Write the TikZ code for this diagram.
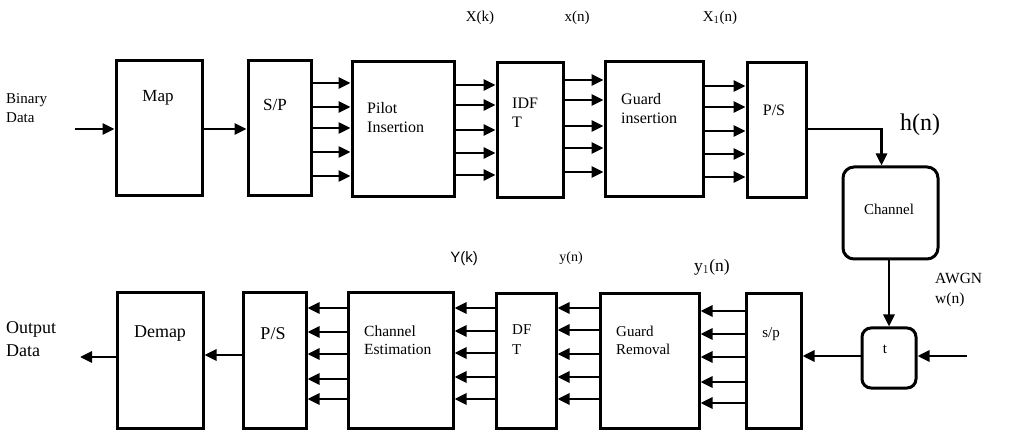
\documentclass[tikz,border=0pt]{standalone}
\usepackage{fontspec}
\setmainfont{Liberation Serif}
\newfontfamily\sansfnt{Liberation Sans}
\usetikzlibrary{arrows.meta}
\tikzset{
  blk/.style={draw=black, line width=3pt, inner sep=0pt, minimum height=135pt},
  arr/.style={line width=2.8pt, -{Triangle[length=12pt,width=11pt]}},
  lbl/.style={inner sep=0pt, align=left, font=\fontsize{16}{19}\selectfont},
  big/.style={inner sep=0pt, align=left, font=\fontsize{18}{23}\selectfont}
}
\begin{document}
\begin{tikzpicture}[x=1pt,y=-1pt]
\useasboundingbox (0,0) rectangle (1012,446);
\node[blk, minimum width=86pt] (map) at (159,128) {};
\node[blk, minimum width=63pt] (sp1) at (279.5,128) {};
\node[blk, minimum width=102pt] (pilot) at (403,129.5) {};
\node[blk, minimum width=66pt] (idft) at (530,130) {};
\node[blk, minimum width=98pt] (gins) at (654,129.5) {};
\node[blk, minimum width=59pt] (ps1) at (776.5,130) {};
\node[blk, minimum width=95pt, minimum height=92pt, rounded corners=11pt] (channel) at (890.5,213) {};
\node[blk, minimum width=54pt, minimum height=60pt, rounded corners=9pt] (tbox) at (889,358) {};
\node[blk, minimum width=86pt] (demap) at (160,360.5) {};
\node[blk, minimum width=63pt] (ps2) at (274.5,360.5) {};
\node[blk, minimum width=105pt] (chest) at (400.5,360.5) {};
\node[blk, minimum width=60pt] (dft) at (526,361) {};
\node[blk, minimum width=99pt] (grem) at (649.5,361) {};
\node[blk, minimum width=55pt] (sp2) at (773.5,361) {};

\node[lbl, anchor=west, font=\fontsize{15}{19}\selectfont] (bin) at (6,108) {Binary\\Data};
\node[lbl, font=\fontsize{17}{19}\selectfont] (maplbl) at (158,98) {Map};
\node[lbl, font=\fontsize{17}{19}\selectfont] (sp1lbl) at (275,105) {S/P};
\node[lbl, anchor=west] (pilotlbl) at (367,118) {Pilot\\Insertion};
\node[lbl, anchor=west] (idftlbl) at (512,113) {IDF\\T};
\node[lbl, anchor=west] (ginslbl) at (621,109) {Guard\\insertion};
\node[lbl] (ps1lbl) at (774,110) {P/S};
\node[lbl, font=\fontsize{15}{19}\selectfont] (xk) at (480,18) {X(k)};
\node[lbl, font=\fontsize{15}{19}\selectfont] (xn) at (577,18) {x(n)};
\node[lbl, font=\fontsize{15}{19}\selectfont] (x1n) at (720,18) {X$_1$(n)};
\node[inner sep=0pt, font=\fontsize{24}{28}\selectfont] (hn) at (920,125) {h(n)};
\node[inner sep=0pt, font=\fontsize{15}{18}\selectfont] (chlbl) at (889,209) {Channel};
\node[inner sep=0pt, font=\fontsize{15}{18}\selectfont] (tlbl) at (885,349) {t};
\node[inner sep=0pt, align=left, anchor=west, font=\fontsize{15.5}{20}\selectfont] (awgn) at (935,290) {AWGN\\w(n)};

\node[big, anchor=west] (out) at (6,339) {Output\\Data};
\node[big] (demaplbl) at (160,334) {Demap};
\node[big] (ps2lbl) at (273,334) {P/S};
\node[inner sep=0pt, align=left, anchor=west, font=\fontsize{15.5}{18}\selectfont] (chestlbl) at (364,340) {Channel\\Estimation};
\node[lbl, anchor=west, font=\fontsize{15}{20}\selectfont] (dftlbl) at (512,340) {DF\\T};
\node[lbl, anchor=west, font=\fontsize{15}{18}\selectfont] (gremlbl) at (616,340) {Guard\\Removal};
\node[lbl, font=\fontsize{15}{19}\selectfont] (sp2lbl) at (771,334) {s/p};
\node[inner sep=0pt, font=\sansfnt\fontsize{15}{18}\selectfont] (yk) at (464,259) {Y(k)};
\node[inner sep=0pt, font=\fontsize{14}{18}\selectfont] (yn) at (571,258) {y(n)};
\node[inner sep=0pt, font=\fontsize{17.5}{20}\selectfont] (y1n) at (712,267) {y$_1$(n)};

\coordinate (inp) at (75,129);
\coordinate (noise) at (967,356);
\coordinate (outp) at (80,357);

\draw[arr] (inp) -- (map.west |- inp);
\draw[arr] (map.east |- inp) -- (sp1.west |- inp);
\foreach \y in {83,107,128,152,176} \draw[arr] (sp1.east |- 0,\y) -- (pilot.west |- 0,\y);
\foreach \y in {85,105,130,153,175} \draw[arr] (pilot.east |- 0,\y) -- (idft.west |- 0,\y);
\foreach \y in {80,100,126,148,172} \draw[arr] (idft.east |- 0,\y) -- (gins.west |- 0,\y);
\foreach \y in {86,107,131,154,177} \draw[arr] (gins.east |- 0,\y) -- (ps1.west |- 0,\y);
\draw[arr] (ps1.east |- 0,129) -| ([xshift=-9pt]channel.north);
\draw[arr] (channel.south -| tbox.north) -- (tbox.north);
\draw[arr] (noise) -- (tbox.east |- noise);
\draw[arr] (tbox.west |- noise) -- (sp2.east |- noise);
\foreach \y in {311,334,357,382,403} \draw[arr] (sp2.west |- 0,\y) -- (grem.east |- 0,\y);
\foreach \y in {308,330,354,377,399} \draw[arr] (grem.west |- 0,\y) -- (dft.east |- 0,\y);
\foreach \y in {308,331,353,377,399} \draw[arr] (dft.west |- 0,\y) -- (chest.east |- 0,\y);
\foreach \y in {308,332,354,379,399} \draw[arr] (chest.west |- 0,\y) -- (ps2.east |- 0,\y);
\draw[arr] (ps2.west |- 0,355) -- (demap.east |- 0,355);
\draw[arr] (demap.west |- outp) -- (outp);
\end{tikzpicture}
\end{document}
